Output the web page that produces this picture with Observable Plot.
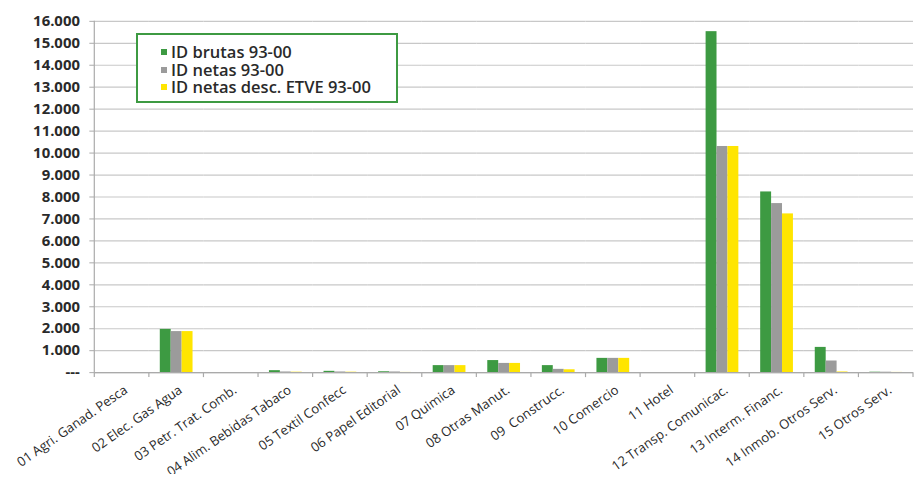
<!DOCTYPE html>
<html>
<head>
<meta charset="utf-8">
<script src="https://cdn.jsdelivr.net/npm/d3@7"></script>
<script src="https://cdn.jsdelivr.net/npm/@observablehq/plot@0.6"></script>
<style>
  html, body { margin: 0; padding: 0; background: #fff; overflow: hidden; }
  #wrap { position: relative; width: 916px; height: 478px; overflow: hidden; }
  #legend {
    position: absolute; left: 136px; top: 33px; width: 258px; height: 58px;
    border: 2px solid #3d9a42; background: #fff;
    font-family: "Open Sans", sans-serif; font-size: 16.5px; font-weight: 600; color: #2a2a2a;
    padding-top: 8px; box-sizing: content-box;
  }
  #legend .row { position: relative; height: 17.5px; line-height: 17.5px; padding-left: 33px; white-space: nowrap; }
  #legend .sw { position: absolute; left: 23px; top: 6px; width: 6px; height: 6px; }
</style>
</head>
<body>
<div id="wrap">
  <div id="chart"></div>
  <div id="legend"></div>
</div>
<script>
const categories = [
  "01 Agri. Ganad. Pesca", "02 Elec. Gas Agua", "03 Petr. Trat. Comb.",
  "04 Alim. Bebidas Tabaco", "05 Textil Confecc", "06 Papel Editorial",
  "07 Quimica", "08 Otras Manut.", "09  Construcc.", "10 Comercio",
  "11 Hotel", "12 Transp. Comunicac.", "13 Interm. Financ.",
  "14 Inmob. Otros Serv.", "15 Otros Serv."
];
const seriesNames = ["ID brutas 93-00", "ID netas 93-00", "ID netas desc. ETVE 93-00"];
const brutas    = [0, 1970, 0, 90, 60, 40, 320, 550, 320, 650, 0, 15530, 8230, 1150, 20];
const netas     = [0, 1870, 0, 30, 30, 30, 320, 420, 150, 650, 0, 10300, 7700, 530, 20];
const netasEtve = [0, 1870, 0, 20, 20, 10, 320, 420, 130, 650, 0, 10300, 7230, 30, 10];
const colors = ["#3d9a42", "#9b9b9b", "#ffe500"];
const yTicks = d3.range(0, 16001, 1000);

const seriesValues = [brutas, netas, netasEtve];
const data = [];
categories.forEach((c, i) => {
  seriesNames.forEach((s, j) => data.push({category: c, series: s, value: seriesValues[j][i]}));
});

const fmt = d => d === 0 ? "---" : d3.format(",")(d).replace(/,/g, ".");

const chart = Plot.plot({
  width: 923,
  height: 478,
  marginLeft: 92,
  marginRight: 0,
  marginTop: 21,
  marginBottom: 103,
  style: {fontFamily: "Open Sans, sans-serif", color: "#2a2a2a", background: "#fff"},
  fx: {domain: categories, padding: 0, label: null},
  x: {domain: seriesNames, paddingInner: 0, paddingOuter: 0.8, axis: null},
  y: {domain: [0, 16000], label: null},
  color: {domain: seriesNames, range: colors},
  marks: [
    Plot.gridY(yTicks, {stroke: "#c8c8c8", strokeOpacity: 1, strokeWidth: 1.2}),
    Plot.barY(data, {fx: "category", x: "series", y: "value", fill: "series"}),
    Plot.ruleY([0], {stroke: "#aaaaaa", strokeWidth: 1.2}),
    Plot.axisY(yTicks, {tickFormat: fmt, tickSize: 5, tickPadding: 10, fontSize: 15, fontWeight: 700, stroke: "#aaaaaa", label: null}),
    Plot.axisFx({anchor: "bottom", tickRotate: -35, tickSize: 0, tickPadding: 16, fontSize: 13.2, dx: 4, label: null})
  ]
});
document.getElementById("chart").appendChild(chart);

// Excel-style axis line and category boundary ticks, from Plot's own scales
const fx = chart.scale("fx");
const y = chart.scale("y");
const svg = d3.select(chart);
const y0 = y.apply(0), yTop = y.apply(16000);
const x0 = fx.apply(categories[0]);
const g = svg.append("g").attr("stroke", "#aaaaaa").attr("stroke-width", 1.2);
g.append("line").attr("x1", x0).attr("x2", x0).attr("y1", yTop).attr("y2", y0);
const bounds = categories.map(c => fx.apply(c)).concat([fx.apply(categories[categories.length - 1]) + fx.bandwidth]);
bounds.forEach(b => g.append("line").attr("x1", b).attr("x2", b).attr("y1", y0).attr("y2", y0 + 5));

// legend
const legend = d3.select("#legend");
seriesNames.forEach((s, i) => {
  const row = legend.append("div").attr("class", "row");
  row.append("span").attr("class", "sw").style("background", colors[i]);
  row.append("span").text(s);
});
</script>
</body>
</html>
